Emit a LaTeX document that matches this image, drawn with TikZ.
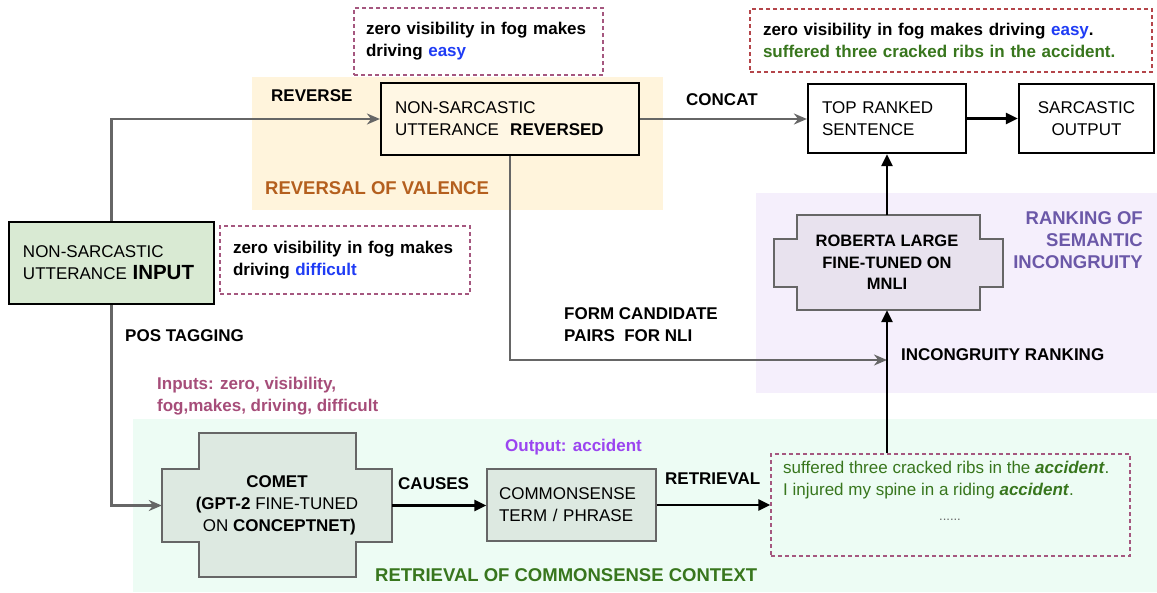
\documentclass[tikz,border=0pt]{standalone}
\usepackage{fontspec}
\setmainfont{Liberation Sans}
\usetikzlibrary{arrows.meta}

\definecolor{revbg}{HTML}{FFF4DC}
\definecolor{revfill}{HTML}{FFF7E4}
\definecolor{rankbg}{HTML}{F5EFFC}
\definecolor{robfill}{HTML}{E8E2EE}
\definecolor{retbg}{HTML}{EDFCF4}
\definecolor{cometfill}{HTML}{DDE9E1}
\definecolor{inputfill}{HTML}{D9EAD3}
\definecolor{exline}{HTML}{A5577F}
\definecolor{exred}{HTML}{B4454A}
\definecolor{valorange}{HTML}{B45F1E}
\definecolor{rankpurple}{HTML}{6B58A8}
\definecolor{mauve}{HTML}{A64D79}
\definecolor{outpurple}{HTML}{9B45F0}
\definecolor{ctxgreen}{HTML}{38761D}
\definecolor{wordblue}{HTML}{1F3CF5}
\definecolor{linegray}{HTML}{666666}

\begin{document}
\begin{tikzpicture}[x=1pt, y=-1pt,
    font=\fontsize{17}{22}\selectfont,
    box/.style={draw=black, line width=2.2pt, align=left},
    exbox/.style={draw=#1, dash pattern=on 4pt off 3pt, line width=1.3pt,
      align=left},
    lbl/.style={inner sep=0pt, anchor=west, font=\fontsize{17}{22}\selectfont\bfseries, align=left},
    region/.style={inner sep=0pt, font=\fontsize{18.5}{22}\selectfont\bfseries},
    grayarrow/.style={draw=linegray, line width=2.5pt, -{Stealth[length=13pt,width=11pt]}},
    blackarrow/.style={draw=black, line width=2.5pt, -{Triangle[length=12pt,width=11pt]}},
  ]
  \useasboundingbox (0,0) rectangle (1157,592);

  % stage backgrounds
  \fill[revbg] (252,77) rectangle (663,210);
  \fill[rankbg] (756,193) rectangle (1157,393);
  \fill[retbg] (133,419) rectangle (1157,592);

  % main boxes
  \node[box, fill=inputfill, minimum width=205pt, minimum height=82pt,
    text width=177pt, inner xsep=14pt] (input) at (111.5,263)
    {NON-SARCASTIC\\UTTERANCE {\fontsize{20.5}{22}\selectfont\bfseries INPUT}};
  \node[box, fill=revfill, minimum width=258pt, minimum height=72pt,
    text width=230pt, inner xsep=14pt] (rev) at (510,119)
    {NON-SARCASTIC\\UTTERANCE\ \ \textbf{REVERSED}};
  \node[box, fill=white, minimum width=158pt, minimum height=69pt,
    text width=130pt, inner xsep=14pt] (top) at (887,118.5)
    {TOP RANKED\\SENTENCE};
  \node[box, fill=white, minimum width=135pt, minimum height=69pt,
    align=center] (out) at (1086.5,118.5) {SARCASTIC\\OUTPUT};
  \node[draw=linegray, line width=1.2pt, fill=cometfill, minimum width=169pt,
    minimum height=72pt, text width=145pt, inner xsep=12pt, align=left]
    (common) at (571.5,505) {COMMONSENSE\\TERM / PHRASE};

  % model blocks
  \draw[linegray, line width=1.2pt, fill=cometfill]
    (199,433) -- (356,433) -- (356,469) -- (392,469) -- (392,542) -- (356,542)
    -- (356,577) -- (199,577) -- (199,542) -- (162,542) -- (162,469) -- (199,469) -- cycle;
  \node[minimum width=230pt, minimum height=73pt, inner sep=0pt, align=center]
    (comet) at (277,505.5)
    {\textbf{COMET}\\\textbf{(GPT-2} FINE-TUNED\\\ ON \textbf{CONCEPTNET)}};
  \draw[linegray, line width=1.2pt, fill=robfill]
    (797,215) -- (980,215) -- (980,239) -- (1003,239) -- (1003,287) -- (980,287)
    -- (980,310) -- (797,310) -- (797,287) -- (774,287) -- (774,239) -- (797,239) -- cycle;
  \node[minimum width=183pt, minimum height=95pt, inner sep=0pt, align=center,
    font=\fontsize{16.5}{21.5}\selectfont\bfseries]
    (rob) at (887,262.5) {ROBERTA LARGE\\FINE-TUNED ON\\MNLI};

  % examples
  \node[exbox=exline, fill=white, minimum width=249pt, minimum height=67pt, text width=225pt,
    inner xsep=12pt, font=\fontsize{17}{22}\selectfont\bfseries] (exrev) at (478.5,41.5)
    {zero visibility in fog makes\\driving \textcolor{wordblue}{easy}};
  \node[exbox=exred, fill=white, minimum width=402pt, minimum height=63pt, text width=376pt,
    inner xsep=13pt, font=\fontsize{17}{22}\selectfont\bfseries] (extop) at (951,40.5)
    {zero visibility in fog makes driving \textcolor{wordblue}{easy}.\\
     \textcolor{ctxgreen}{suffered three cracked ribs in the accident.}};
  \node[exbox=exline, fill=white, minimum width=250pt, minimum height=68pt, text width=224pt,
    inner xsep=13pt, font=\fontsize{17}{22}\selectfont\bfseries] (exin) at (345,260)
    {zero visibility in fog makes\\driving \textcolor{wordblue}{difficult}};
  \node[exbox=exline, minimum width=359pt, minimum height=102pt] (ret) at (950.5,505) {};
  \node[inner sep=0pt, anchor=north west, align=left, text=ctxgreen] (rettext) at (783,461)
    {suffered three cracked ribs in the \textbf{\textit{accident}}.\\
     I injured my spine in a riding \textbf{\textit{accident}}.};
  \node[inner sep=0pt, text=black!60, font=\fontsize{13}{15}\selectfont] (retdots) at (950,520) {......};

  % labels
  \node[lbl] (lrev) at (271,96) {REVERSE};
  \node[lbl] (lcat) at (686,100) {CONCAT};
  \node[lbl] (lpos) at (125,336) {POS TAGGING};
  \node[lbl, text=mauve] (lin) at (157,396)
    {Inputs: zero, visibility,\\fog,makes, driving, difficult};
  \node[lbl] (lnli) at (564,325) {FORM CANDIDATE\\PAIRS\ \ FOR NLI};
  \node[lbl] (linc) at (901,355) {INCONGRUITY RANKING};
  \node[lbl] (lcau) at (398,484) {CAUSES};
  \node[lbl, text=outpurple] (lout) at (505,447) {Output: accident};
  \node[lbl] (lretr) at (665,479) {RETRIEVAL};
  \node[region, anchor=west, text=valorange] (tval) at (265,188) {REVERSAL OF VALENCE};
  \node[region, anchor=east, align=right, text=rankpurple] (trank) at (1143,240)
    {RANKING OF\\SEMANTIC\\INCONGRUITY};
  \node[region, anchor=west, text=ctxgreen] (tctx) at (375,575)
    {RETRIEVAL OF COMMONSENSE CONTEXT};

  % connectors
  \coordinate (nli) at (887,360);
  \draw[grayarrow] (input.north) |- (rev.west);
  \draw[grayarrow] (rev.east) -- (rev.east -| top.west);
  \draw[blackarrow] (top.east) -- (out.west);
  \draw[grayarrow] (rev.south) |- (nli);
  \draw[blackarrow] (rob.north) -- (top.south);
  \draw[blackarrow] (rob.south |- ret.north) -- (rob.south);
  \draw[grayarrow] (input.south) |- (comet.west);
  \draw[blackarrow] (comet.east) -- (comet.east -| common.west);
  \draw[blackarrow] (common.east) -- (ret.west);
\end{tikzpicture}
\end{document}
